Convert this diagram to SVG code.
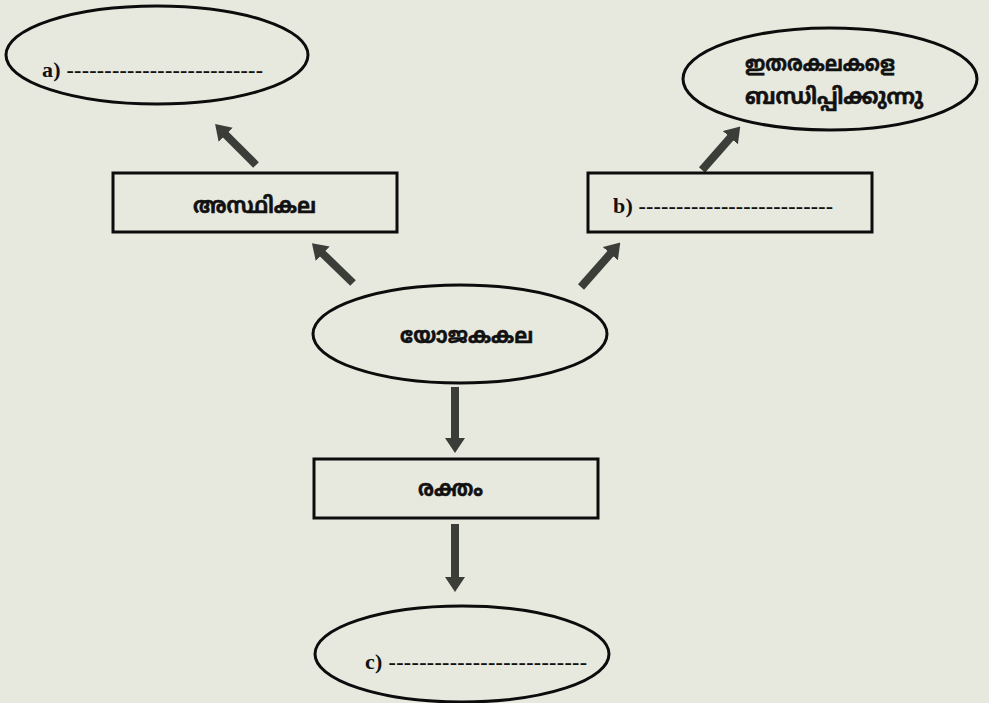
<svg xmlns="http://www.w3.org/2000/svg" width="989" height="703" viewBox="0 0 989 703">
<defs>
<marker id="ah" markerUnits="userSpaceOnUse" markerWidth="15" markerHeight="20" viewBox="0 0 15 20" refX="1" refY="10" orient="auto">
<path d="M0,0 L15,10 L0,20 z" fill="#3b3d38"/>
</marker>
</defs>
<style>
.bg{fill:#e7e9df}
.sh{fill:none;stroke:#0c0c0c;stroke-width:3}
.ml{font-family:"Noto Sans Malayalam","Noto Sans","DejaVu Sans",sans-serif;font-weight:bold;font-size:22px;fill:#111;stroke:#111;stroke-width:0.5}
.lt{font-family:"Liberation Serif",serif;font-weight:bold;font-size:22px;fill:#111}
.ar{fill:none;stroke:#3b3d38;stroke-width:8;marker-end:url(#ah)}
</style>
<rect class="bg" x="0" y="0" width="989" height="703"/>
<g id="connectors">
<line class="ar" x1="256" y1="165" x2="225" y2="134"/>
<line class="ar" x1="353" y1="283" x2="322" y2="253"/>
<line class="ar" x1="581" y1="287" x2="611" y2="253"/>
<line class="ar" x1="702" y1="170" x2="731" y2="137"/>
<line class="ar" x1="455" y1="387" x2="455" y2="439"/>
<line class="ar" x1="455" y1="524" x2="455" y2="578"/>
</g>
<g id="node-a">
<ellipse class="sh" cx="157" cy="55" rx="151" ry="49"/>
<text class="lt" x="42" y="77" textLength="221" lengthAdjust="spacing">a) --------------------------</text>
</g>
<g id="node-asthikala">
<rect class="sh" x="113" y="173" width="284" height="59"/>
<text class="ml" x="193" y="213" textLength="123" lengthAdjust="spacingAndGlyphs">അസ്ഥികല</text>
</g>
<g id="node-itharakalakale">
<ellipse class="sh" cx="830" cy="79" rx="147" ry="51"/>
<text class="ml" x="745" y="71" textLength="150" lengthAdjust="spacingAndGlyphs">ഇതരകലകളെ</text>
<text class="ml" x="745" y="104" textLength="178" lengthAdjust="spacingAndGlyphs">ബന്ധിപ്പിക്കുന്നു</text>
</g>
<g id="node-b">
<rect class="sh" x="588" y="173" width="284" height="59"/>
<text class="lt" x="613" y="213" textLength="220" lengthAdjust="spacing">b) --------------------------</text>
</g>
<g id="node-yojakakala">
<ellipse class="sh" cx="460" cy="334" rx="147" ry="49"/>
<text class="ml" x="400" y="343" textLength="133" lengthAdjust="spacingAndGlyphs">യോജകകല</text>
</g>
<g id="node-raktham">
<rect class="sh" x="314" y="459" width="284" height="59"/>
<text class="ml" x="418" y="496" textLength="65" lengthAdjust="spacingAndGlyphs">രക്തം</text>
</g>
<g id="node-c">
<ellipse class="sh" cx="462" cy="654" rx="147" ry="48"/>
<text class="lt" x="365" y="669" textLength="222" lengthAdjust="spacing">c) --------------------------</text>
</g>
</svg>
